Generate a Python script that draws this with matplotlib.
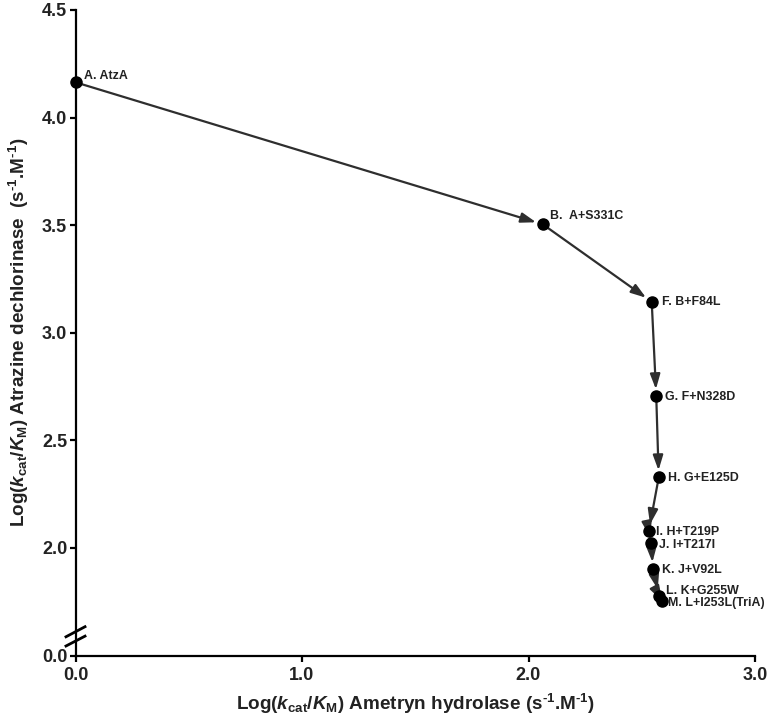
import matplotlib
matplotlib.use("Agg")
import matplotlib.pyplot as plt

plt.rcParams['font.family'] = ['Liberation Sans', 'DejaVu Sans']
plt.rcParams['font.weight'] = 'bold'
plt.rcParams['mathtext.fontset'] = 'custom'
plt.rcParams['mathtext.rm'] = 'Liberation Sans:bold'
plt.rcParams['mathtext.bf'] = 'Liberation Sans:bold'
plt.rcParams['mathtext.it'] = 'Liberation Sans:italic:bold'

labels = ["A. AtzA", "B.  A+S331C", "F. B+F84L", "G. F+N328D", "H. G+E125D",
          "I. H+T219P", "J. I+T217I", "K. J+V92L", "L. K+G255W", "M. L+I253L(TriA)"]
x_vals = [0.0, 2.063, 2.544, 2.564, 2.575, 2.531, 2.542, 2.549, 2.578, 2.590]
y_vals = [4.164, 3.504, 3.144, 2.705, 2.328, 2.078, 2.021, 1.901, 1.777, 1.754]
label_offsets = [(8, 6), (7, 8), (10, 0), (9, -1), (9, -1), (7, -1), (8, -2), (9, -1), (7, 5), (6, -2)]

x_ticks = [0.0, 1.0, 2.0, 3.0]
x_ticklabels = ["0.0", "1.0", "2.0", "3.0"]
y_ticks = [1.5, 2.0, 2.5, 3.0, 3.5, 4.0, 4.5]
y_ticklabels = ["0.0", "2.0", "2.5", "3.0", "3.5", "4.0", "4.5"]

fig = plt.figure(figsize=(7.71, 7.19), dpi=100)
ax = fig.add_axes([75.5/771, 1-655.5/719, (755-75.5)/771, (655.5-10)/719])
ax.set_xlim(0, 3.0)
ax.set_ylim(1.5, 4.5)

line_col = '#2e2e2e'
for i in range(len(x_vals)-1):
    ax.annotate("", xy=(x_vals[i+1], y_vals[i+1]), xytext=(x_vals[i], y_vals[i]),
                arrowprops=dict(arrowstyle='-|>,head_length=0.9,head_width=0.3',
                                color=line_col, lw=1.6, shrinkA=4, shrinkB=5),
                zorder=2)

ax.plot(x_vals, y_vals, 'o', color='black', ms=8, zorder=3, clip_on=False)

for xv, yv, lab, off in zip(x_vals, y_vals, labels, label_offsets):
    ax.annotate(lab, xy=(xv, yv), xytext=off, textcoords='offset pixels',
                ha='left', va='center', fontsize=8.9, fontweight='bold', color='#222222')

for s in ['top', 'right']:
    ax.spines[s].set_visible(False)
for s in ['left', 'bottom']:
    ax.spines[s].set_linewidth(1.6)
    ax.spines[s].set_color('black')

ax.set_xticks(x_ticks)
ax.set_xticklabels(x_ticklabels)
ax.set_yticks(y_ticks)
ax.set_yticklabels(y_ticklabels)
ax.tick_params(axis='both', direction='out', length=4, width=1.6, labelsize=13, colors='black')
ax.tick_params(axis='x', pad=4)
ax.tick_params(axis='y', pad=2)
for t in ax.get_xticklabels() + ax.get_yticklabels():
    t.set_fontweight('bold')
    t.set_color('#222222')

# axis break marks
for y0, y1 in [(0.029, 0.0446), (0.0147, 0.030)]:
    ax.plot([-0.014, 0.014], [y0, y1], transform=ax.transAxes, color='black', lw=2.0, clip_on=False)

ax.set_xlabel(r"Log($\it{k}_{\rm{cat}}$/$\it{K}_{\rm{M}}$) Ametryn hydrolase (s$^{\text{-}\rm{1}}$.M$^{\text{-}\rm{1}}$)",
              fontsize=13.6, fontweight='bold', color='#222222', labelpad=6)
ax.set_ylabel(r"Log($\it{k}_{\rm{cat}}$/$\it{K}_{\rm{M}}$) Atrazine dechlorinase  (s$^{\text{-}\rm{1}}$.M$^{\text{-}\rm{1}}$)",
              fontsize=13.6, fontweight='bold', color='#222222', labelpad=8)

fig.savefig("out.png", dpi=100)
